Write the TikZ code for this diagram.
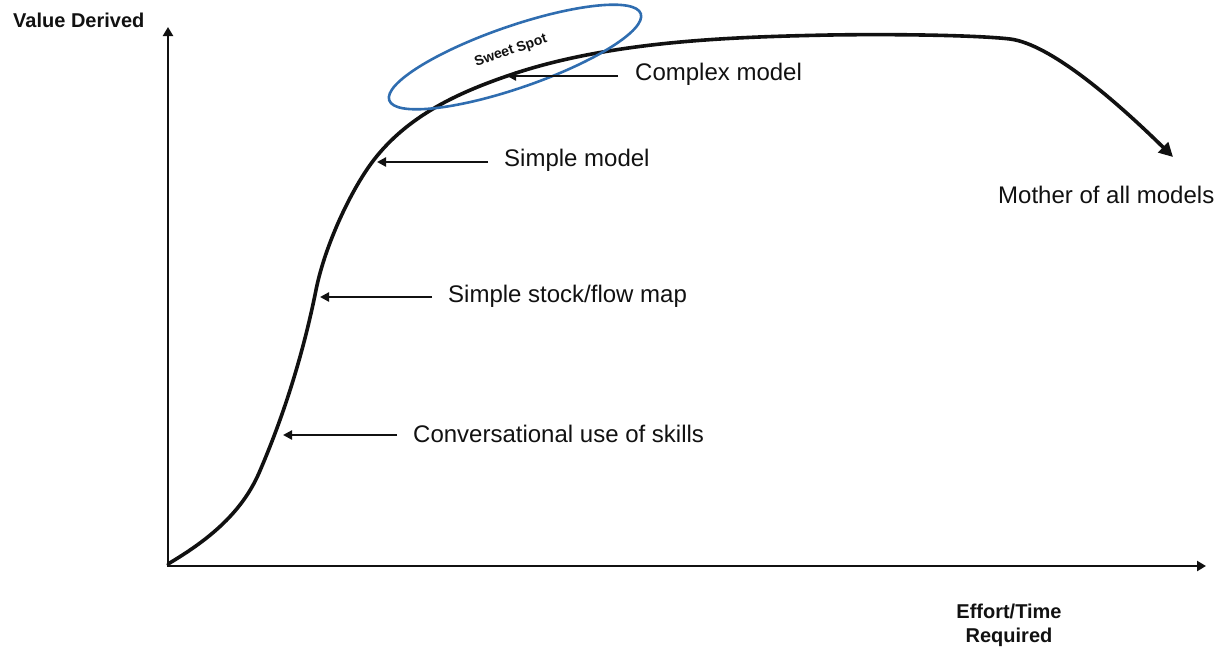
\documentclass[tikz,border=0pt]{standalone}
\usepackage{fontspec}
\setmainfont{Liberation Sans}
\usetikzlibrary{arrows.meta}

\definecolor{ink}{HTML}{111111}
\definecolor{spotblue}{HTML}{2F6DB0}

\tikzset{
  axisline/.style={line width=2.6pt, ink, -{Triangle[length=9pt,width=10pt]}},
  curveline/.style={line width=3.6pt, ink, line cap=round, -{Triangle[length=14pt,width=14pt]}},
  pointer/.style={line width=2.5pt, ink, -{Triangle[length=9pt,width=9pt]}},
  lbl/.style={font=\fontsize{24}{28}\selectfont, text=ink, anchor=west, inner sep=0pt},
  axislbl/.style={font=\bfseries\fontsize{20}{23}\selectfont, text=ink, align=center, inner sep=0pt},
}

\begin{document}
\begin{tikzpicture}[x=1pt, y=-1pt]
\useasboundingbox (0,0) rectangle (1222,653);

% axes
\coordinate (O) at (168,566);
\coordinate (ytop) at (168,27);
\coordinate (xend) at (1206,566);
\draw[axisline] ([yshift=1pt]O) -- (ytop);
\draw[axisline] ([xshift=-1pt]O) -- (xend);

\node[axislbl, anchor=west] (vlab) at (13,20) {Value Derived};
\node[axislbl, font=\bfseries\fontsize{20}{24}\selectfont] (elab) at (1009,625) {Effort/Time\\Required};

% value curve: S-shaped rise, long plateau, final drop
\draw[curveline] (168,564)
  .. controls (198,546) and (239,519) .. (259,473)
  .. controls (285,413) and (304,350) .. (316,290)
  .. controls (325,245) and (351,190) .. (373,161)
  .. controls (408,115) and (460,92) .. (510,75)
  .. controls (610,41) and (730,37) .. (830,35)
  .. controls (890,34) and (975,35) .. (1010,39)
  .. controls (1050,44) and (1115,100) .. (1173,157);

% points on the curve
\coordinate (pconv) at (283,435);
\coordinate (pflow) at (320,297);
\coordinate (psimple) at (377,162);
\coordinate (pcomplex) at (507,76);

% sweet spot ellipse
\coordinate (spot) at (515,57);
\draw[spotblue, line width=2.6pt, rotate around={19:(spot)}] (spot) ellipse [x radius=133pt, y radius=31pt];
\node[font=\bfseries\fontsize{14}{16}\selectfont, text=ink, rotate=19, inner sep=0pt] (sweet) at (511,51) {Sweet Spot};

% labels with pointers
\node[lbl] (complex) at (635,74) {Complex model};
\node[lbl] (simple) at (504,160) {Simple model};
\node[lbl] (flow) at (448,296) {Simple stock/flow map};
\node[lbl] (conv) at (413,434) {Conversational use of skills};
\node[lbl] (mother) at (998,195) {Mother of all models};

\draw[pointer] ([xshift=-17pt,yshift=-2pt]complex.west) -- (pcomplex);
\draw[pointer] ([xshift=-16pt,yshift=-2pt]simple.west) -- (psimple);
\draw[pointer] ([xshift=-16pt,yshift=-1pt]flow.west) -- (pflow);
\draw[pointer] ([xshift=-16pt,yshift=-1pt]conv.west) -- (pconv);
\end{tikzpicture}
\end{document}
